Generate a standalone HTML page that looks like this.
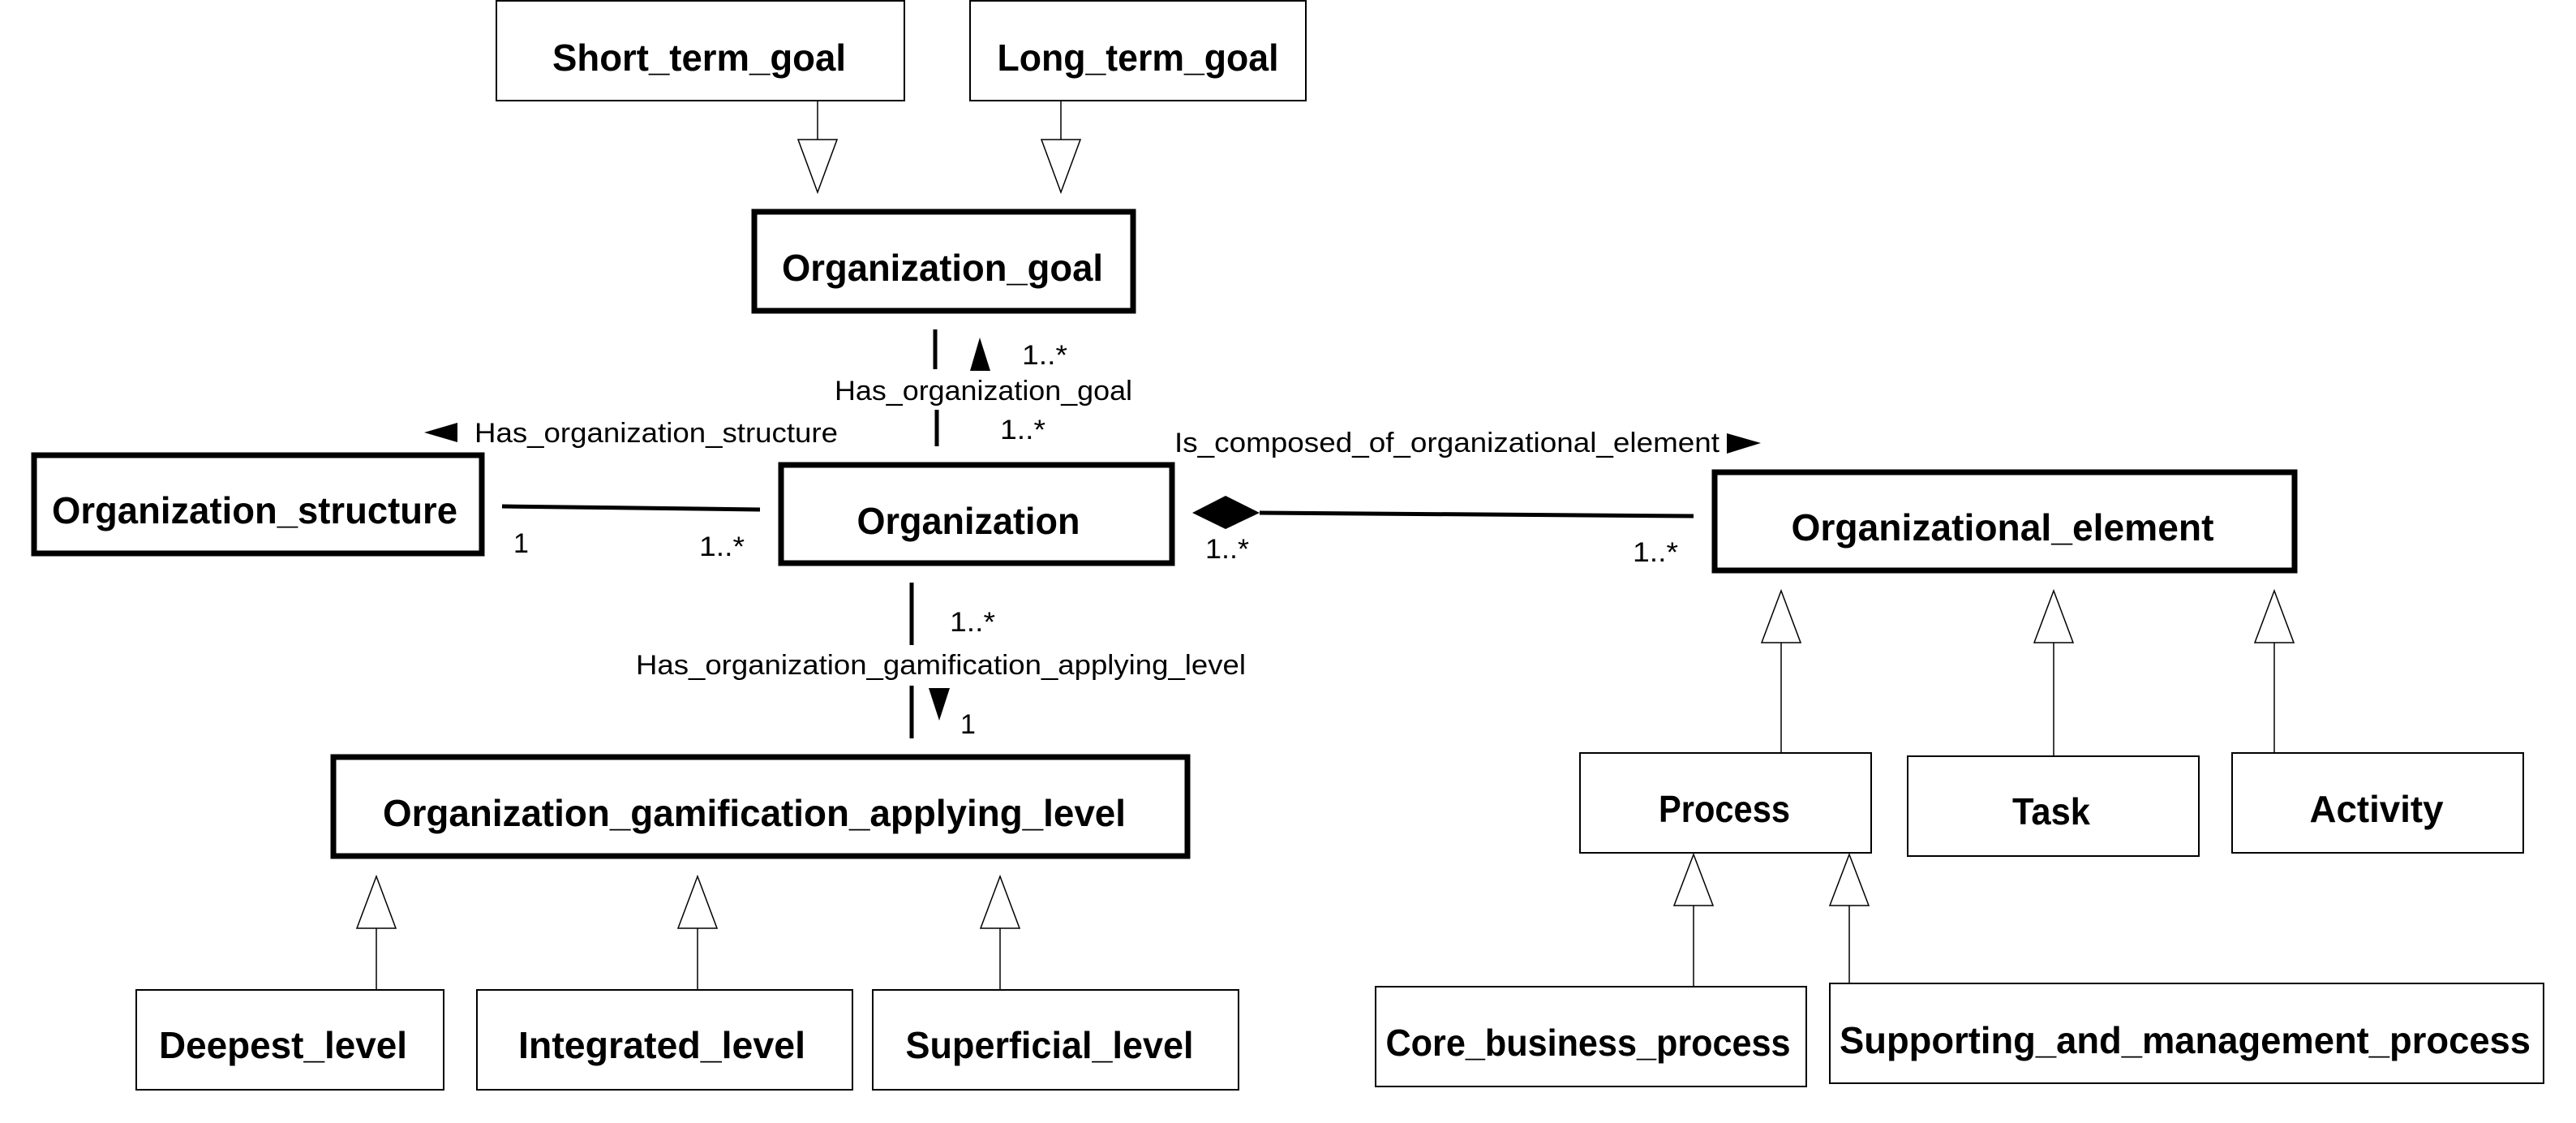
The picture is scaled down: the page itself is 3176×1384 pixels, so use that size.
<!DOCTYPE html>
<html><head><meta charset="utf-8"><style>html,body{margin:0;padding:0;background:#fff}svg{display:block}</style></head>
<body>
<svg width="3176" height="1384" viewBox="0 0 3176 1384" xmlns="http://www.w3.org/2000/svg">
<g fill="#fff" stroke="#000" stroke-width="2">
<rect x="612" y="1" width="503" height="123"/>
<rect x="1196" y="1" width="414" height="123"/>
<rect x="1948" y="928" width="359" height="123"/>
<rect x="2352" y="932" width="359" height="123"/>
<rect x="2752" y="928" width="359" height="123"/>
<rect x="1696" y="1216" width="531" height="123"/>
<rect x="2256" y="1212" width="880" height="123"/>
<rect x="168" y="1220" width="379" height="123"/>
<rect x="588" y="1220" width="463" height="123"/>
<rect x="1076" y="1220" width="451" height="123"/>
</g>
<g fill="#fff" stroke="#000" stroke-width="7">
<rect x="930" y="261" width="467" height="122"/>
<rect x="42" y="561" width="552" height="121"/>
<rect x="963" y="573" width="482" height="121"/>
<rect x="2114" y="582" width="715" height="121"/>
<rect x="411" y="933" width="1053" height="122"/>
</g>
<!-- generalization lines -->
<g stroke="#000" stroke-width="1.5" fill="#fff">
<line x1="1008" y1="124" x2="1008" y2="172"/><polygon points="984,172 1032,172 1008,237"/>
<line x1="1308" y1="124" x2="1308" y2="172"/><polygon points="1284,172 1332,172 1308,237"/>
<line x1="2196" y1="792" x2="2196" y2="928"/><polygon points="2172,792 2220,792 2196,728"/>
<line x1="2532" y1="792" x2="2532" y2="932"/><polygon points="2508,792 2556,792 2532,728"/>
<line x1="2804" y1="792" x2="2804" y2="928"/><polygon points="2780,792 2828,792 2804,728"/>
<line x1="2088" y1="1116" x2="2088" y2="1216"/><polygon points="2064,1116 2112,1116 2088,1053"/>
<line x1="2280" y1="1116" x2="2280" y2="1212"/><polygon points="2256,1116 2304,1116 2280,1053"/>
<line x1="464" y1="1144" x2="464" y2="1220"/><polygon points="440,1144 488,1144 464,1080"/>
<line x1="860" y1="1144" x2="860" y2="1220"/><polygon points="836,1144 884,1144 860,1080"/>
<line x1="1233" y1="1144" x2="1233" y2="1220"/><polygon points="1209,1144 1257,1144 1233,1080"/>
</g>
<!-- associations -->
<g stroke="#000" stroke-width="5">
<line x1="1153" y1="406" x2="1153" y2="455"/>
<line x1="1155" y1="505" x2="1155" y2="550"/>
<line x1="619" y1="624" x2="937" y2="628"/>
<line x1="1553" y1="632" x2="2088" y2="636"/>
<line x1="1124" y1="718" x2="1124" y2="795"/>
<line x1="1124" y1="845" x2="1124" y2="910"/>
</g>
<g fill="#000">
<polygon points="1470,632 1511,611 1553,632 1511,652"/>
<polygon points="1196,457 1221,457 1208,416"/>
<polygon points="523,533 564,521 564,545"/>
<polygon points="2129,534 2171,546 2129,559"/>
<polygon points="1145,848 1171,848 1158,888"/>
</g>
<g font-family="Liberation Sans, sans-serif" font-weight="bold" font-size="46" text-anchor="middle" lengthAdjust="spacingAndGlyphs">
<text x="862" y="87" textLength="362" lengthAdjust="spacingAndGlyphs">Short_term_goal</text>
<text x="1403" y="87" textLength="347" lengthAdjust="spacingAndGlyphs">Long_term_goal</text>
<text x="1162" y="346" textLength="396" lengthAdjust="spacingAndGlyphs">Organization_goal</text>
<text x="314" y="645" textLength="500" lengthAdjust="spacingAndGlyphs">Organization_structure</text>
<text x="1194" y="658" textLength="275" lengthAdjust="spacingAndGlyphs">Organization</text>
<text x="2469" y="666" textLength="521" lengthAdjust="spacingAndGlyphs">Organizational_element</text>
<text x="930" y="1018" textLength="916" lengthAdjust="spacingAndGlyphs">Organization_gamification_applying_level</text>
<text x="2126" y="1013" textLength="162" lengthAdjust="spacingAndGlyphs">Process</text>
<text x="2529" y="1016" textLength="96" lengthAdjust="spacingAndGlyphs">Task</text>
<text x="2930" y="1013" textLength="165" lengthAdjust="spacingAndGlyphs">Activity</text>
<text x="1958" y="1301" textLength="499" lengthAdjust="spacingAndGlyphs">Core_business_process</text>
<text x="2694" y="1298" textLength="852" lengthAdjust="spacingAndGlyphs">Supporting_and_management_process</text>
<text x="349" y="1304" textLength="306" lengthAdjust="spacingAndGlyphs">Deepest_level</text>
<text x="816" y="1304" textLength="354" lengthAdjust="spacingAndGlyphs">Integrated_level</text>
<text x="1294" y="1304" textLength="355" lengthAdjust="spacingAndGlyphs">Superficial_level</text>
</g>
<g font-family="Liberation Sans, sans-serif" font-size="34">
<text x="1029" y="493" textLength="367" lengthAdjust="spacingAndGlyphs">Has_organization_goal</text>
<text x="585" y="545" textLength="448" lengthAdjust="spacingAndGlyphs">Has_organization_structure</text>
<text x="1448" y="557" textLength="672" lengthAdjust="spacingAndGlyphs">Is_composed_of_organizational_element</text>
<text x="784" y="831" textLength="752" lengthAdjust="spacingAndGlyphs">Has_organization_gamification_applying_level</text>
<text x="1260" y="449" textLength="56" lengthAdjust="spacingAndGlyphs">1..*</text>
<text x="1233" y="541" textLength="56" lengthAdjust="spacingAndGlyphs">1..*</text>
<text x="633" y="681">1</text>
<text x="862" y="685" textLength="56" lengthAdjust="spacingAndGlyphs">1..*</text>
<text x="1486" y="688" textLength="54" lengthAdjust="spacingAndGlyphs">1..*</text>
<text x="2013" y="692" textLength="56" lengthAdjust="spacingAndGlyphs">1..*</text>
<text x="1171" y="778" textLength="56" lengthAdjust="spacingAndGlyphs">1..*</text>
<text x="1184" y="904">1</text>
</g>
</svg>
</body></html>
